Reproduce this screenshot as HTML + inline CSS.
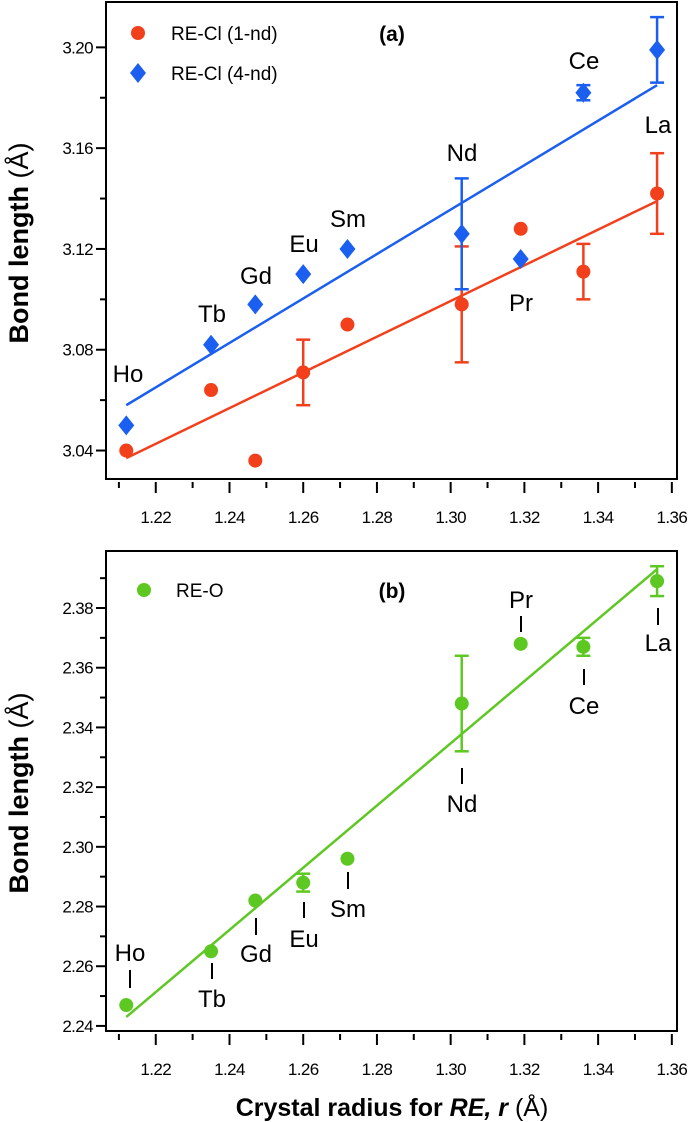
<!DOCTYPE html>
<html><head><meta charset="utf-8"><style>
html,body{margin:0;padding:0;background:#fff;}
svg{display:block;font-family:"Liberation Sans",sans-serif;}
</style></head><body>
<svg id="fig" width="691" height="1122" viewBox="0 0 691 1122"></svg>
<script>
const elements = ['Ho','Tb','Gd','Eu','Sm','Nd','Pr','Ce','La'];
const radius = [1.212,1.235,1.247,1.260,1.272,1.303,1.319,1.336,1.356];
const cl1 = [3.040,3.064,3.036,3.071,3.090,3.098,3.128,3.111,3.142];
const cl1Err = [0,0,0,0.013,0,0.023,0,0.011,0.016];
const cl4 = [3.050,3.082,3.098,3.110,3.120,3.126,3.116,3.182,3.199];
const cl4Err = [0,0,0,0,0,0.022,0,0.003,0.013];
const reo = [2.247,2.265,2.282,2.288,2.296,2.348,2.368,2.367,2.389];
const reoErr = [0,0,0,0.003,0,0.016,0,0.003,0.005];
const fitCl1 = [3.037,3.139];
const fitCl4 = [3.058,3.185];
const fitReo = [2.243,2.393];
const xTicks = ['1.22','1.24','1.26','1.28','1.30','1.32','1.34','1.36'];
const yTicksA = ['3.04','3.08','3.12','3.16','3.20'];
const yTicksB = ['2.24','2.26','2.28','2.30','2.32','2.34','2.36','2.38'];

const NS='http://www.w3.org/2000/svg';
const svg=document.getElementById('fig');
function mk(tag,attrs,parent,text){const e=document.createElementNS(NS,tag);for(const k in attrs)e.setAttribute(k,attrs[k]);if(text!==undefined)e.textContent=text;(parent||svg).appendChild(e);return e;}

const L=106,R=677;
const xMin=1.2065,xMax=1.3614;
const xs=v=>L+(v-xMin)/(xMax-xMin)*(R-L);

function panel(top,bottom,yMin,yMax,name){
  const ys=v=>bottom-(v-yMin)/(yMax-yMin)*(bottom-top);
  const g=mk('g',{});
  
  
  const fr=mk('rect',{x:L,y:top,width:R-L,height:bottom-top,fill:'none',stroke:'#000','stroke-width':2},g);
  
  
  return {g,ys};
}

function xAxis(g,bottom,name){
  const ax=mk('g',{},g);
  
  
  for(let i=0;i<=15;i++){
    const v=1.21+i*0.01; if(v>1.3605)break;
    const major=i%2===1;
    const x=xs(v);
    mk('line',{x1:x,x2:x,y1:bottom+3,y2:bottom+(major?14:9),stroke:'#000','stroke-width':2},ax);
  }
  xTicks.forEach(t=>{
    const tx=mk('text',{x:xs(parseFloat(t)),y:bottom+44,'text-anchor':'middle','font-size':17,'letter-spacing':'-0.6'},ax,t);
    
    
  });
}

function yAxis(g,ys,ticks,step,minor,name){
  const ax=mk('g',{},g);
  
  
  const lo=parseFloat(ticks[0]),hi=parseFloat(ticks[ticks.length-1]);
  for(let v=lo;v<=hi+step+1e-9;v+=minor){
    const isMajor=Math.abs(Math.round((v-lo)/step)*step-(v-lo))<1e-6;
    const y=ys(v);
    if(y<ys(hi+step*0.99)) continue;
    mk('line',{x1:L-(isMajor?10:6),x2:L,y1:y,y2:y,stroke:'#000','stroke-width':2},ax);
  }
  ticks.forEach(t=>{
    const tx=mk('text',{x:L-13,y:ys(parseFloat(t))+6,'text-anchor':'end','font-size':17,'letter-spacing':'-0.6'},ax,t);
    
    
  });
}

function yTitle(cy){
  const t=mk('text',{transform:`translate(28,${cy}) rotate(-90)`,'text-anchor':'middle','font-size':27},svg);
  
  
  mk('tspan',{'font-weight':'bold'},t,'Bond length ');
  mk('tspan',{},t,'(Å)');
}

function errBar(g,x,y1,y2,color){
  mk('line',{x1:x,x2:x,y1:y1,y2:y2,stroke:color,'stroke-width':2.5},g);
  mk('line',{x1:x-7,x2:x+7,y1:y1,y2:y1,stroke:color,'stroke-width':2.5},g);
  mk('line',{x1:x-7,x2:x+7,y1:y2,y2:y2,stroke:color,'stroke-width':2.5},g);
}

function diamond(g,x,y,s,color){
  return mk('polygon',{points:`${x},${y-s} ${x+s*0.8},${y} ${x},${y+s} ${x-s*0.8},${y}`,fill:color},g);
}

const RED='#f2401c',BLUE='#1b5ff0',GREEN='#5ec823';
const A=panel(2,479,3.0287,3.218,'panel-a');
xAxis(A.g,479,'x-axis-a');
yAxis(A.g,A.ys,yTicksA,0.04,0.02,'y-axis-a');
yTitle(243);
const fitA1=mk('line',{x1:xs(radius[0]),x2:xs(radius[8]),y1:A.ys(fitCl1[0]),y2:A.ys(fitCl1[1]),stroke:RED,'stroke-width':2.5},A.g);


const fitA4=mk('line',{x1:xs(radius[0]),x2:xs(radius[8]),y1:A.ys(fitCl4[0]),y2:A.ys(fitCl4[1]),stroke:BLUE,'stroke-width':2.5},A.g);


radius.forEach((r,i)=>{
  const x=xs(r);
  if(cl1Err[i]) errBar(A.g,x,A.ys(cl1[i]+cl1Err[i]),A.ys(cl1[i]-cl1Err[i]),RED);
  const c=mk('circle',{cx:x,cy:A.ys(cl1[i]),r:7,fill:RED},A.g);
  
  
});
radius.forEach((r,i)=>{
  const x=xs(r);
  if(cl4Err[i]) errBar(A.g,x,A.ys(cl4[i]+cl4Err[i]),A.ys(cl4[i]-cl4Err[i]),BLUE);
  const d=diamond(A.g,x,A.ys(cl4[i]),10,BLUE);
  
  
});
const labA=[[128,382],[212,322],[256,284],[304,252],[348,227],[462,161],[521,311],[584,69],[658,133]];
elements.forEach((e,i)=>{
  const t=mk('text',{x:labA[i][0],y:labA[i][1],'text-anchor':'middle','font-size':24},A.g,e);
  
  
});
const lgA=mk('g',{},A.g);


mk('circle',{cx:138,cy:33,r:7,fill:RED},lgA);
mk('text',{x:171,y:40,'font-size':19},lgA,'RE-Cl (1-nd)');
diamond(lgA,138,73,10,BLUE);
mk('text',{x:171,y:80,'font-size':19},lgA,'RE-Cl (4-nd)');
const pa=mk('text',{x:392,y:41,'text-anchor':'middle','font-size':21,'font-weight':'bold'},A.g,'(a)');



const B=panel(551,1031,2.2383,2.3991,'panel-b');
xAxis(B.g,1031,'x-axis-b');
yAxis(B.g,B.ys,yTicksB,0.02,0.01,'y-axis-b');
yTitle(793);
const fitB=mk('line',{x1:xs(radius[0]),x2:xs(radius[8]),y1:B.ys(fitReo[0]),y2:B.ys(fitReo[1]),stroke:GREEN,'stroke-width':2.5},B.g);


radius.forEach((r,i)=>{
  const x=xs(r);
  if(reoErr[i]) errBar(B.g,x,B.ys(reo[i]+reoErr[i]),B.ys(reo[i]-reoErr[i]),GREEN);
  const c=mk('circle',{cx:x,cy:B.ys(reo[i]),r:7,fill:GREEN},B.g);
  
  
});
const labB=[[130,961,970,988],[212,1007,963,979],[256,962,918,935],[304,947,902,918],[348,917,872,889],[462,812,768,784],[521,608,616,632],[584,714,669,685],[658,651,608,625]];
elements.forEach((e,i)=>{
  const [lx,ty,t1,t2]=labB[i];
  const t=mk('text',{x:lx,y:ty,'text-anchor':'middle','font-size':24},B.g,e);
  
  
  mk('line',{x1:lx,x2:lx,y1:t1,y2:t2,stroke:'#000','stroke-width':2},B.g);
});
const lgB=mk('g',{},B.g);


mk('circle',{cx:144,cy:590,r:7,fill:GREEN},lgB);
mk('text',{x:176,y:597,'font-size':19},lgB,'RE-O');
const pb=mk('text',{x:392,y:598,'text-anchor':'middle','font-size':21,'font-weight':'bold'},B.g,'(b)');



const xt=mk('text',{x:392,y:1116,'text-anchor':'middle','font-size':25},svg);


mk('tspan',{'font-weight':'bold'},xt,'Crystal radius for ');
mk('tspan',{'font-weight':'bold','font-style':'italic'},xt,'RE, r');
mk('tspan',{},xt,' (Å)');
</script>
</body></html>
